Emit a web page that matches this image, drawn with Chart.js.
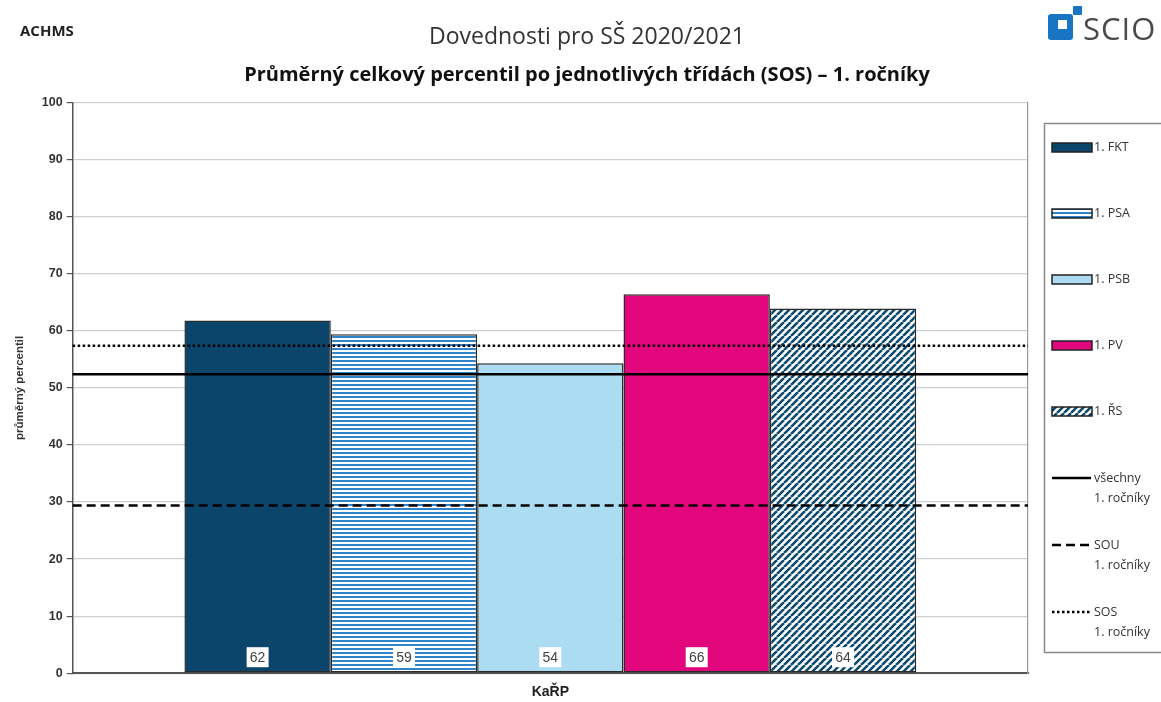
<!DOCTYPE html>
<html>
<head>
<meta charset="utf-8">
<script src="https://cdn.jsdelivr.net/npm/chart.js@4.4.1/dist/chart.umd.min.js"></script>
<style>
  html, body { margin: 0; padding: 0; background: #fff; }
  #wrap { position: relative; width: 1161px; height: 702px; overflow: hidden; }
  #achms { position: absolute; left: 20px; top: 20px; font: bold 15px "Open Sans", "DejaVu Sans", sans-serif; color: #222; }
  #logo { position: absolute; left: 1048px; top: 5px; width: 113px; height: 40px; }
  #logo .sq { position: absolute; left: 0; top: 9px; width: 25px; height: 26px; background: #1a74c4; border-radius: 3px; }
  #logo .in { position: absolute; left: 10px; top: 15px; width: 9px; height: 9px; background: #fff; }
  #logo .sm { position: absolute; left: 25px; top: 1px; width: 9px; height: 9px; background: #1a74c4; border-radius: 1px; }
  #logo .tx { position: absolute; left: 35px; top: 2px; font: normal 31px "Open Sans", "DejaVu Sans", sans-serif; color: #4a4a4a; letter-spacing: 1px; }
</style>
</head>
<body>
<div id="wrap">
  <canvas id="c" width="1161" height="702"></canvas>
  <div id="achms">ACHMS</div>
  <div id="logo"><div class="sq"></div><div class="in"></div><div class="sm"></div><div class="tx">SCIO</div></div>
</div>
<script>
// ---- data ----
const categories = ['KaŘP'];
const classNames = ['1. FKT', '1. PSA', '1. PSB', '1. PV', '1. ŘS'];
const classValues = [61.8, 59.4, 54.3, 66.4, 63.9];
const classLabels = ['62', '59', '54', '66', '64'];
const refNames = [['všechny', '1. ročníky'], ['SOU', '1. ročníky'], ['SOS', '1. ročníky']];
const refValues = [52.4, 29.4, 57.4];
const yTicks = [0, 10, 20, 30, 40, 50, 60, 70, 80, 90, 100];

// ---- patterns ----
function stripePattern() {
  const c = document.createElement('canvas'); c.width = 4; c.height = 4;
  const g = c.getContext('2d');
  g.fillStyle = '#ffffff'; g.fillRect(0, 0, 4, 4);
  g.fillStyle = '#2f82cc'; g.fillRect(0, 0, 4, 2);
  return g.createPattern(c, 'repeat');
}
function hatchPattern() {
  const s = 7;
  const c = document.createElement('canvas'); c.width = s; c.height = s;
  const g = c.getContext('2d');
  g.fillStyle = '#ffffff'; g.fillRect(0, 0, s, s);
  g.strokeStyle = '#0d4a72'; g.lineWidth = 2.6;
  g.beginPath();
  for (let k = -1; k <= 1; k++) {
    g.moveTo(k * s, s); g.lineTo(k * s + s, 0);
  }
  g.stroke();
  return g.createPattern(c, 'repeat');
}
const fills = ['#0b456c', stripePattern(), '#acdcf2', '#e2077c', hatchPattern()];
const refDash = [[], [9, 5], [2.5, 2.5]];

const datasets = classNames.map((n, i) => ({
  label: n, data: [classValues[i]], backgroundColor: fills[i],
  borderColor: '#2a2a2a', borderWidth: 1.5, borderSkipped: false,
  barPercentage: 1, categoryPercentage: 0.766
}));

// reference lines, positioned through the y scale
const refLinePlugin = {
  id: 'refLines',
  afterDatasetsDraw(chart) {
    const ctx = chart.ctx, a = chart.chartArea, ys = chart.scales.y;
    ctx.save();
    ctx.strokeStyle = '#000'; ctx.lineWidth = 2.4;
    refValues.forEach((v, i) => {
      const y = ys.getPixelForValue(v);
      ctx.setLineDash(refDash[i]);
      ctx.beginPath(); ctx.moveTo(a.left, y); ctx.lineTo(a.right, y); ctx.stroke();
    });
    ctx.restore();
  }
};

const labelPlugin = {
  id: 'valueLabels',
  afterDatasetsDraw(chart) {
    const ctx = chart.ctx;
    const y0 = chart.scales.y.getPixelForValue(0);
    ctx.save();
    ctx.font = '14px "Liberation Sans Narrow", "Liberation Sans", Arial, sans-serif';
    ctx.textAlign = 'center'; ctx.textBaseline = 'middle';
    classNames.forEach((n, i) => {
      const bar = chart.getDatasetMeta(i).data[0];
      const cy = y0 - 16;
      ctx.fillStyle = '#fff';
      ctx.fillRect(bar.x - 11, cy - 10, 22, 20);
      ctx.fillStyle = '#444';
      ctx.fillText(classLabels[i], bar.x, cy + 1);
    });
    ctx.restore();
  }
};

const legendPlugin = {
  id: 'boxLegend',
  afterDraw(chart) {
    const ctx = chart.ctx;
    ctx.save();
    ctx.strokeStyle = '#888'; ctx.lineWidth = 1.5;
    ctx.strokeRect(1044.5, 123.5, 130, 529);
    ctx.font = '12.5px "Open Sans", "DejaVu Sans", sans-serif';
    ctx.textBaseline = 'middle'; ctx.textAlign = 'left';
    classNames.forEach((n, i) => {
      const y = 147 + i * 66;
      ctx.fillStyle = fills[i];
      ctx.fillRect(1052, y - 4, 40, 9);
      ctx.strokeStyle = '#222'; ctx.lineWidth = 1.5;
      ctx.strokeRect(1052, y - 4, 40, 9);
      ctx.fillStyle = '#333';
      ctx.fillText(n, 1094, y);
    });
    refNames.forEach((n, i) => {
      const y = 478 + i * 67;
      ctx.strokeStyle = '#000'; ctx.lineWidth = 2.4;
      ctx.setLineDash(refDash[i]);
      ctx.beginPath(); ctx.moveTo(1052, y); ctx.lineTo(1091, y); ctx.stroke();
      ctx.setLineDash([]);
      ctx.fillStyle = '#333';
      ctx.fillText(n[0], 1094, y);
      ctx.fillText(n[1], 1094, y + 20);
    });
    ctx.restore();
  }
};

new Chart(document.getElementById('c'), {
  type: 'bar',
  data: { labels: categories, datasets },
  options: {
    responsive: false, animation: false,
    layout: { padding: { left: 13, right: 0, top: 0, bottom: -2 } },
    plugins: {
      legend: { display: false }, tooltip: { enabled: false },
      title: { display: true, text: 'Dovednosti pro SŠ 2020/2021', color: '#333',
        font: { family: '"Open Sans", "DejaVu Sans", sans-serif', size: 23, weight: 'normal' },
        padding: { top: 24, bottom: 12 } },
      subtitle: { display: true, text: 'Průměrný celkový percentil po jednotlivých třídách (SOS) – 1. ročníky', color: '#111',
        font: { family: '"Open Sans", "DejaVu Sans", sans-serif', size: 20, weight: 'bold' },
        padding: { top: 0, bottom: 15 } }
    },
    scales: {
      x: {
        grid: { display: false },
        border: { color: '#555', width: 2 },
        ticks: { color: '#222', padding: 3, font: { family: '"Liberation Sans", Arial, sans-serif', size: 14, weight: 'bold' } }
      },
      y: {
        min: 0, max: 100,
        afterBuildTicks(s) { s.ticks = yTicks.map(v => ({ value: v })); },
        grid: { color: '#cfcfcf', lineWidth: 1.2, tickColor: '#555', tickLength: 6 },
        border: { color: '#555', width: 1.5 },
        ticks: { color: '#333', padding: 4, font: { family: '"Liberation Sans", Arial, sans-serif', size: 12.5, weight: 'bold' } },
        title: { display: true, text: 'průměrný percentil', color: '#333', padding: { top: 0, bottom: 11 },
          font: { family: '"Liberation Sans", Arial, sans-serif', size: 11.5, weight: 'bold' } }
      },
      y2: {
        position: 'right', min: 0, max: 100,
        grid: { drawOnChartArea: false, drawTicks: false },
        border: { color: '#999', width: 1.2 },
        ticks: { display: false },
        afterFit(s) { s.width = 133; }
      }
    }
  },
  plugins: [refLinePlugin, labelPlugin, legendPlugin]
});
</script>
</body>
</html>
